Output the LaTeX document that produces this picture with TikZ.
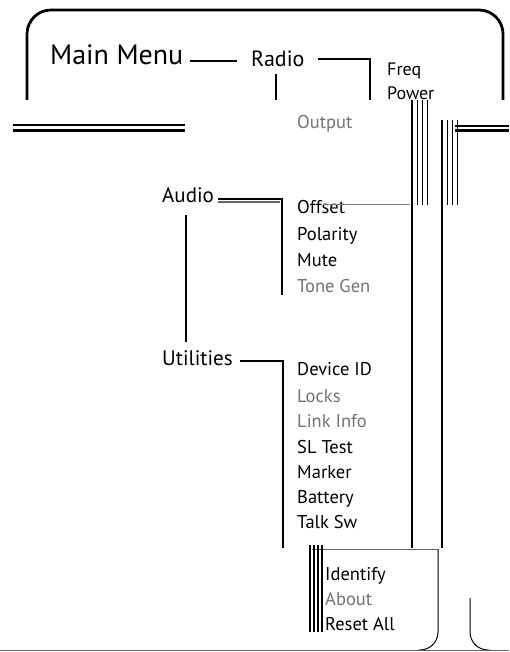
\documentclass[tikz,border=0pt]{standalone}
\usepackage{fontspec}
\setmainfont{PT Sans}
\begin{document}
\begin{tikzpicture}[x=1pt,y=-1pt,
  lbl/.style={anchor=base west,inner sep=0pt,font=\fontsize{18.5}{18.5}\selectfont},
  big/.style={anchor=base west,inner sep=0pt,font=\fontsize{28}{28}\selectfont},
  mid/.style={anchor=base west,inner sep=0pt,font=\fontsize{22}{22}\selectfont},
  sec/.style={anchor=base west,inner sep=0pt,font=\fontsize{21}{21}\selectfont},
  small/.style={anchor=base west,inner sep=0pt,font=\fontsize{18}{18}\selectfont},
  ghost/.style={lbl,text=black!55},
  conn/.style={line width=1.2pt},
  frame/.style={line width=2.8pt},
  glitch/.style={line width=1.6pt},
  thin/.style={line width=0.6pt,black!50}]
\useasboundingbox (0,0) rectangle (509,652);
% frame
\draw[frame,rounded corners=24] (27,100) -- (27,10) -- (503,10) -- (503,100);
% nodes
\node[big] (main) at (50,65) {Main Menu};
\node[mid] (radio) at (251,67) {Radio};
\node[small] (freq) at (387,76) {Freq};
\node[small] (power) at (387,100) {Power};
\node[ghost] (output) at (297,129) {Output};
\node[sec] (audio) at (162,203) {Audio};
\node[lbl] (offset) at (297,213) {Offset};
\node[lbl] (polarity) at (297,240) {Polarity};
\node[lbl] (mute) at (297,266) {Mute};
\node[ghost] (tone) at (297,292) {Tone Gen};
\node[sec] (util) at (162,365) {Utilities};
\node[lbl] (dev) at (297,375) {Device ID};
\node[ghost] (locks) at (297,402) {Locks};
\node[ghost] (link) at (297,427) {Link Info};
\node[lbl] (sl) at (297,453) {SL Test};
\node[lbl] (marker) at (297,478) {Marker};
\node[lbl] (batt) at (297,503) {Battery};
\node[lbl] (talk) at (297,528) {Talk Sw};
\node[lbl] (ident) at (325,580) {Identify};
\node[ghost] (about) at (325,605) {About};
\node[lbl] (reset) at (325,630) {Reset All};
% connectors
\draw[conn] (main.east |- 0,61) ++(6,0) -- (237,61);
\draw[conn] (318,59) -- (370,59) -- (370,100);
\draw[conn] (276,74) -- (276,100);
\draw[conn] (218,199) -- (282,199) -- (282,295);
\draw[conn,black!60] (218,202) -- (280,202);
\draw[conn] (186,215) -- (186,342);
\draw[conn] (240,361) -- (283,361) -- (283,548);
\draw[thin] (323,204) -- (410,204);
% glitch: thick double line
\draw[line width=2.2pt] (13,125) -- (185,125);
\draw[line width=2.2pt] (13,130.5) -- (185,130.5);
\draw[line width=2.2pt] (455,126) -- (509,126);
\draw[line width=2.2pt] (455,130.5) -- (509,130.5);
% glitch verticals
\draw[glitch] (412,100) -- (412,548);
\draw[glitch] (442,120) -- (442,548);
\foreach \x in {417,422,427} \draw[line width=1pt] (\x,100) -- (\x,205);
\foreach \x in {447,452,457} \draw[line width=1pt] (\x,120) -- (\x,205);
% lower glitch box
\draw[line width=1pt,black!60] (312,549) -- (438,549);
\foreach \x in {310,314,318,322} \draw[line width=1.4pt] (\x,545) -- (\x,632);
\draw[line width=1pt,rounded corners=18] (438,549) -- (438,650) -- (418,650);
\draw[line width=1pt,rounded corners=18] (470,598) -- (470,650) -- (490,650);
% bottom line
\draw[line width=1pt,black!60] (0,650) -- (509,650);
\end{tikzpicture}
\end{document}
